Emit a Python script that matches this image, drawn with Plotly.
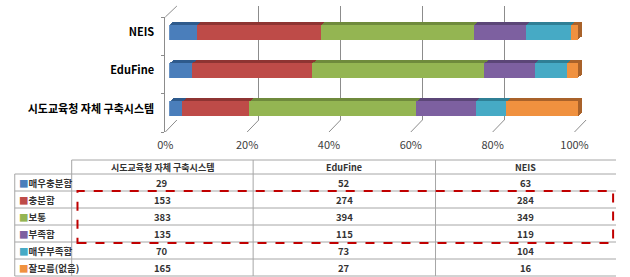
import plotly.graph_objects as go

# ---------------- data ----------------
categories = ['시도교육청 자체 구축시스템', 'EduFine', 'NEIS']
series_names = ['매우충분함', '충분함', '보통', '부족함', '매우부족함', '잘모름(없음)']
very_sufficient = [29, 52, 63]
sufficient = [153, 274, 284]
normal = [383, 394, 349]
insufficient = [135, 115, 119]
very_insufficient = [70, 73, 104]
unknown = [165, 27, 16]
series_values = [very_sufficient, sufficient, normal, insufficient, very_insufficient, unknown]
x_ticks = [0, 20, 40, 60, 80, 100]

front_colors = ['#4A7EBB', '#BE4B48', '#94B552', '#7D60A0', '#46AAC5', '#F0913F']
depth_colors = ['#2E5A8C', '#8E3432', '#6F8A3C', '#5B4677', '#2F7F95', '#A9622A']

W, H = 630, 277
def px(p):
    return p / W
def py(p):
    return 1 - p / H

GRID = '#8C8C8C'
FONT = 'Noto Sans CJK KR'

fig = go.Figure()

# axis 1: back wall (gridlines)
fig.add_trace(go.Scatter(x=[], y=[], xaxis='x', yaxis='y', showlegend=False))

# shadow (depth) copies of the bars, drawn behind the front faces
shifts = [4, 3, 2, 1]
for k, d in enumerate(shifts):
    ax = k + 2
    for name, vals, col in zip(series_names, series_values, depth_colors):
        fig.add_trace(go.Bar(y=categories, x=vals, orientation='h', name=name,
                             marker=dict(color=col, line=dict(width=0)), width=0.39,
                             xaxis=f'x{ax}', yaxis=f'y{ax}', showlegend=False,
                             hoverinfo='skip'))

# front faces
for name, vals, col in zip(series_names, series_values, front_colors):
    fig.add_trace(go.Bar(y=categories, x=vals, orientation='h', name=name,
                         marker=dict(color=col, line=dict(width=0)), width=0.39,
                         xaxis='x6', yaxis='y6', showlegend=False))

# front plane axis (tick labels)
fig.add_trace(go.Scatter(x=[], y=[], xaxis='x7', yaxis='y7', showlegend=False))

layout = dict(
    width=W, height=H, margin=dict(l=0, r=0, t=0, b=0),
    paper_bgcolor='white', plot_bgcolor='rgba(0,0,0,0)',
    barmode='stack', barnorm='percent', showlegend=False,
    font=dict(family=FONT, size=11, color='#000000'),
)

# back wall axis
layout['xaxis'] = dict(domain=[px(175), px(599)], range=[0, 100], tickvals=x_ticks[1:],
                       showgrid=True, gridcolor=GRID, gridwidth=1, showticklabels=False,
                       zeroline=False, showline=False, ticks='', anchor='y', fixedrange=True)
layout['yaxis'] = dict(domain=[py(120), py(6)], range=[0, 1], visible=False, anchor='x',
                       fixedrange=True)

def bar_axes(n, x0, y_top):
    layout[f'xaxis{n}'] = dict(domain=[px(x0), px(x0 + 424)], range=[0, 100], visible=False,
                               anchor=f'y{n}', fixedrange=True)
    layout[f'yaxis{n}'] = dict(domain=[py(y_top + 115), py(y_top)], type='category',
                               categoryorder='array', categoryarray=categories,
                               range=[-0.5, 2.5], visible=False, anchor=f'x{n}', fixedrange=True)

for k, d in enumerate(shifts):
    bar_axes(k + 2, 167 + d, 13 - 0.75 * d)
bar_axes(6, 167, 13)
layout['yaxis6'].update(visible=True, showticklabels=True, showline=False, showgrid=False,
                        zeroline=False, ticks='', ticklabelstandoff=14,
                        tickfont=dict(family=FONT, size=11, color='#000000', weight='bold'))

# front plane axis
layout['xaxis7'] = dict(domain=[px(163), px(587)], range=[0, 100], tickvals=x_ticks,
                        ticktext=[f'{t}%' for t in x_ticks], showgrid=False, zeroline=False,
                        showline=False, ticks='', ticklabelstandoff=5,
                        tickfont=dict(family=FONT, size=11, color='#404040'),
                        anchor='y7', fixedrange=True)
layout['yaxis7'] = dict(domain=[py(132), py(17)], range=[0, 3], tickvals=[0, 1, 2, 3],
                        showticklabels=False, showgrid=False, zeroline=False,
                        showline=True, linecolor=GRID, linewidth=1,
                        ticks='outside', ticklen=3, tickcolor=GRID,
                        anchor='x7', fixedrange=True)

fig.update_layout(**layout)

shapes = []
annotations = []
# 3-D floor edges: front tick position to back tick position
for t in x_ticks:
    xf = 163 + t / 100 * 424
    xb = 175 + t / 100 * 424
    shapes.append(dict(type='line', xref='paper', yref='paper', x0=px(xf), y0=py(132),
                       x1=px(xb), y1=py(120), line=dict(color=GRID, width=1), layer='below'))
shapes.append(dict(type='line', xref='paper', yref='paper', x0=px(163), y0=py(17),
                   x1=px(175), y1=py(6), line=dict(color=GRID, width=1), layer='below'))

# ---------------- data table ----------------
TL = '#A6A6A6'
col_edges = [7, 66, 254, 443, 630]
header_top, header_bot, row_h = 160, 174, 17
n_rows = len(series_names)
table_bot = header_bot + n_rows * row_h

def hline(y, x0, x1):
    shapes.append(dict(type='line', xref='paper', yref='paper', x0=px(x0), x1=px(x1),
                       y0=py(y), y1=py(y), line=dict(color=TL, width=1)))
def vline(x, y0, y1):
    shapes.append(dict(type='line', xref='paper', yref='paper', x0=px(x), x1=px(x),
                       y0=py(y0), y1=py(y1), line=dict(color=TL, width=1)))

hline(header_top, col_edges[1], col_edges[-1])
for r in range(n_rows + 1):
    hline(header_bot + r * row_h, col_edges[0], col_edges[-1])
vline(col_edges[0], header_bot, table_bot)
for x in col_edges[1:-1]:
    vline(x, header_top, table_bot)

TXT = '#333333'
for j, cat in enumerate(categories):
    cx = (col_edges[j + 1] + col_edges[j + 2]) / 2
    annotations.append(dict(xref='paper', yref='paper', x=px(cx), y=py((header_top + header_bot) / 2),
                            text=f'<b>{cat}</b>', showarrow=False, xanchor='center', yanchor='middle',
                            font=dict(family=FONT, size=9, color=TXT)))
for r, (name, vals, col) in enumerate(zip(series_names, series_values, front_colors)):
    cy = header_bot + r * row_h + row_h / 2
    annotations.append(dict(xref='paper', yref='paper', x=px(col_edges[0] + 2), y=py(cy),
                            text=f'<span style="color:{col}">■</span><b>{name}</b>',
                            showarrow=False, xanchor='left', yanchor='middle',
                            font=dict(family=FONT, size=9.5, color=TXT)))
    for j, v in enumerate(vals):
        cx = (col_edges[j + 1] + col_edges[j + 2]) / 2
        annotations.append(dict(xref='paper', yref='paper', x=px(cx), y=py(cy),
                                text=f'<b>{v}</b>', showarrow=False, xanchor='center',
                                yanchor='middle', font=dict(family=FONT, size=9.5, color=TXT)))

# highlight box on the table
shapes.append(dict(type='rect', xref='paper', yref='paper', x0=px(72), x1=px(627),
                   y0=py(243), y1=py(191), line=dict(color='#C00000', width=2, dash='dash'),
                   fillcolor='rgba(0,0,0,0)', layer='above'))
fig.update_layout(shapes=shapes, annotations=annotations)

fig.write_html('out.html', config={'displayModeBar': False, 'staticPlot': True},
               post_script="document.body.style.margin='0';document.body.style.overflow='hidden';")
